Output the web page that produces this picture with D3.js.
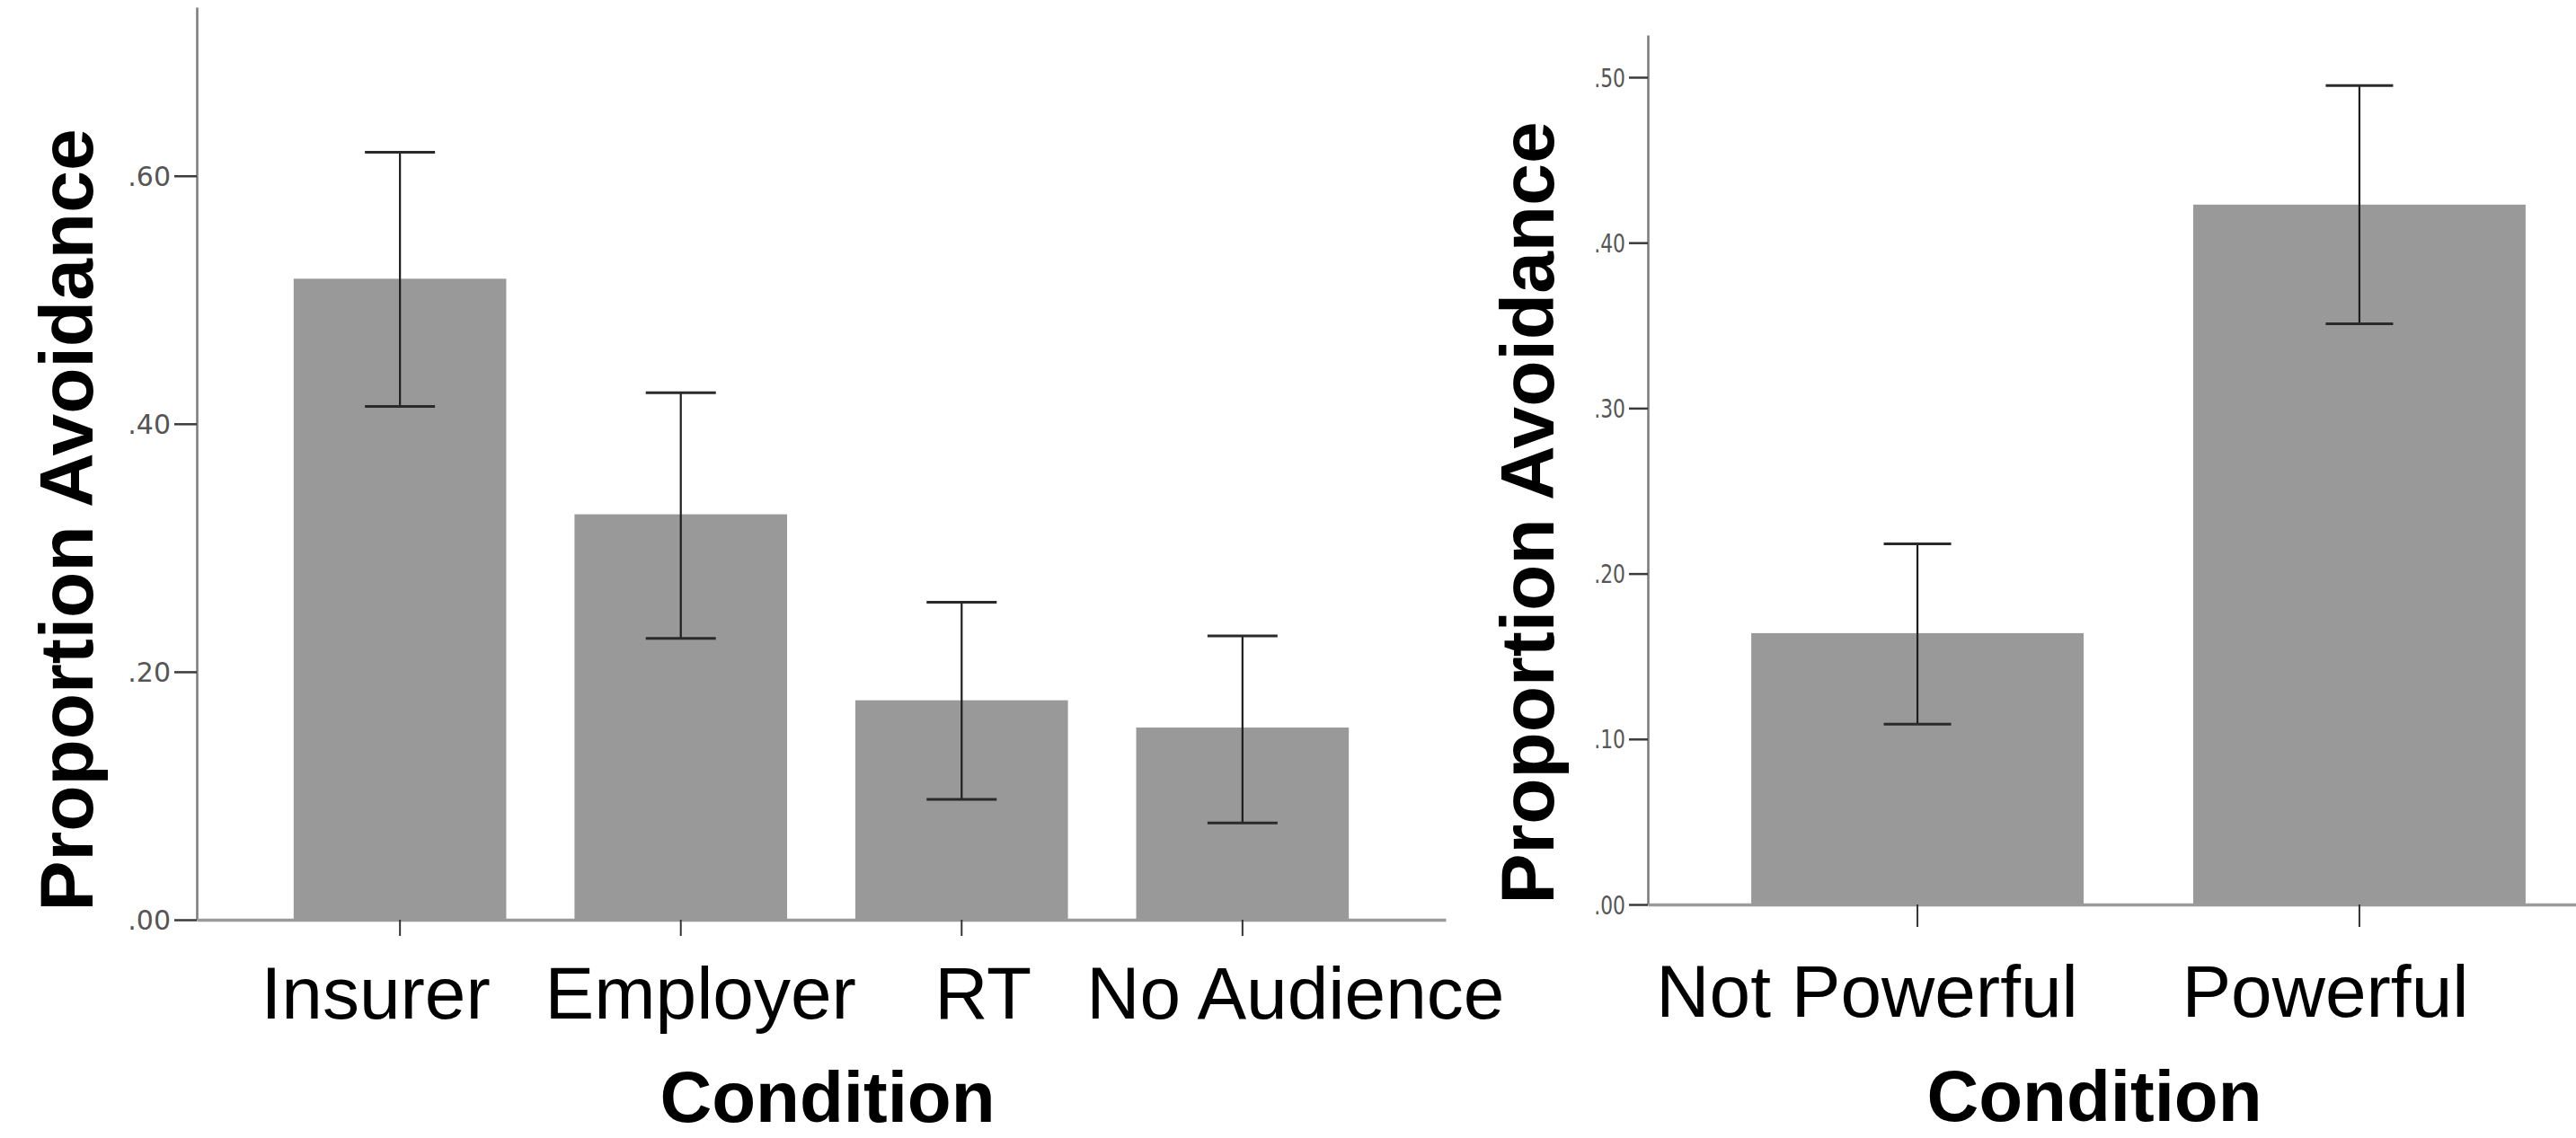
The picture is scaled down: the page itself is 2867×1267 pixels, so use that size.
<!DOCTYPE html>
<html>
<head>
<meta charset="utf-8">
<script src="https://cdn.jsdelivr.net/npm/d3@7"></script>
<style>
  html, body { margin: 0; padding: 0; background: #ffffff; }
  svg { display: block; }
</style>
</head>
<body>
<svg id="chart" width="2867" height="1267"></svg>
<script>
// ---------------- DATA ----------------
const leftCategories = ["Insurer", "Employer", "RT", "No Audience"];
const leftMeans = [0.517, 0.327, 0.177, 0.155];
const leftUpper = [0.619, 0.425, 0.256, 0.229];
const leftLower = [0.414, 0.227, 0.097, 0.078];
const leftTickValues = [0, 0.2, 0.4, 0.6];
const leftTickLabels = [".00", ".20", ".40", ".60"];

const rightCategories = ["Not Powerful", "Powerful"];
const rightMeans = [0.164, 0.423];
const rightUpper = [0.218, 0.495];
const rightLower = [0.109, 0.351];
const rightTickValues = [0, 0.1, 0.2, 0.3, 0.4, 0.5];
const rightTickLabels = [".00", ".10", ".20", ".30", ".40", ".50"];

const yTitle = "Proportion Avoidance";
const xTitle = "Condition";

// ---------------- LAYOUT ----------------
const panels = [
  {
    cats: leftCategories, means: leftMeans, upper: leftUpper, lower: leftLower,
    tickValues: leftTickValues, tickLabels: leftTickLabels,
    x0: 219, x1: 1609, y0: 1024, yTop: 8, yMax: 0.736,
    padInner: 0.243, padOuter: 0.345,
    yTickLen: 25, xTickLen: 18, tickFont: 30, tickScaleX: 1.0,
    capW: 78, labelNudge: [-27, 22, 24, 59], labelBaseline: 1134,
    yTitleX: 103, yTitleY: 579, xTitleX: 921, xTitleY: 1249
  },
  {
    cats: rightCategories, means: rightMeans, upper: rightUpper, lower: rightLower,
    tickValues: rightTickValues, tickLabels: rightTickLabels,
    x0: 1834, x1: 2926, y0: 1007, yTop: 39, yMax: 0.5255,
    padInner: 0.248, padOuter: 0.234,
    yTickLen: 21, xTickLen: 25, tickFont: 28, tickScaleX: 0.78,
    capW: 75, labelNudge: [-56, -38], labelBaseline: 1132,
    yTitleX: 1729, yTitleY: 571, xTitleX: 2331, xTitleY: 1248
  }
];

const svg = d3.select("#chart");
svg.append("rect").attr("x", 0).attr("y", 0).attr("width", 2867).attr("height", 1267).attr("fill", "#ffffff");

panels.forEach(p => {
  const g = svg.append("g");
  const x = d3.scaleBand().domain(p.cats).range([p.x0, p.x1])
    .paddingInner(p.padInner).paddingOuter(p.padOuter);
  const y = d3.scaleLinear().domain([0, p.yMax]).range([p.y0, p.yTop]);

  // bars
  g.selectAll("rect.bar").data(p.cats).enter().append("rect")
    .attr("class", "bar")
    .attr("x", d => x(d))
    .attr("width", x.bandwidth())
    .attr("y", (d, i) => y(p.means[i]))
    .attr("height", (d, i) => y(0) - y(p.means[i]))
    .attr("fill", "#999999");

  // error bars
  p.cats.forEach((c, i) => {
    const cx = x(c) + x.bandwidth() / 2;
    g.append("line").attr("x1", cx).attr("x2", cx)
      .attr("y1", y(p.upper[i])).attr("y2", y(p.lower[i]))
      .attr("stroke", "#1e1e1e").attr("stroke-width", 2.2);
    [p.upper[i], p.lower[i]].forEach(v => {
      g.append("line").attr("x1", cx - p.capW / 2).attr("x2", cx + p.capW / 2)
        .attr("y1", y(v)).attr("y2", y(v))
        .attr("stroke", "#2a2a2a").attr("stroke-width", 3);
    });
  });

  // y axis
  const yAxis = d3.axisLeft(y).tickValues(p.tickValues)
    .tickFormat((d, i) => p.tickLabels[i]).tickSize(p.yTickLen).tickSizeOuter(0).tickPadding(4);
  const ya = g.append("g").attr("transform", `translate(${p.x0},0)`).call(yAxis);
  ya.select(".domain").attr("stroke", "#7a7a7a").attr("stroke-width", 2.5);
  ya.selectAll(".tick line").attr("stroke", "#3a3a3a").attr("stroke-width", 2.5);
  ya.selectAll(".tick text")
    .attr("font-family", "'DejaVu Sans', sans-serif")
    .attr("font-size", p.tickFont)
    .attr("fill", "#555555")
    .attr("dy", "0.36em")
    .each(function () {
      const t = d3.select(this);
      const tx = +t.attr("x");
      t.attr("x", null).attr("transform", `translate(${tx},0) scale(${p.tickScaleX},1)`);
    });

  // x axis
  const xAxis = d3.axisBottom(x).tickSize(p.xTickLen).tickSizeOuter(0).tickFormat("");
  const xa = g.append("g").attr("transform", `translate(0,${p.y0})`).call(xAxis);
  xa.select(".domain").attr("stroke", "#9a9a9a").attr("stroke-width", 3.5);
  xa.selectAll(".tick line").attr("stroke", "#333333").attr("stroke-width", 2);

  // category labels
  g.selectAll("text.cat").data(p.cats).enter().append("text")
    .attr("class", "cat")
    .attr("x", (d, i) => x(d) + x.bandwidth() / 2 + p.labelNudge[i])
    .attr("y", p.labelBaseline)
    .attr("text-anchor", "middle")
    .attr("font-family", "'Liberation Sans', Arial, sans-serif")
    .attr("font-size", 82)
    .attr("fill", "#000000")
    .text(d => d);

  // axis titles
  g.append("text")
    .attr("transform", `translate(${p.yTitleX},${p.yTitleY}) rotate(-90)`)
    .attr("text-anchor", "middle")
    .attr("font-family", "'Liberation Sans', Arial, sans-serif")
    .attr("font-weight", "bold")
    .attr("font-size", 84)
    .attr("fill", "#000000")
    .text(yTitle);

  g.append("text")
    .attr("x", p.xTitleX).attr("y", p.xTitleY)
    .attr("text-anchor", "middle")
    .attr("font-family", "'Liberation Sans', Arial, sans-serif")
    .attr("font-weight", "bold")
    .attr("font-size", 80)
    .attr("fill", "#000000")
    .text(xTitle);
});
</script>
</body>
</html>
